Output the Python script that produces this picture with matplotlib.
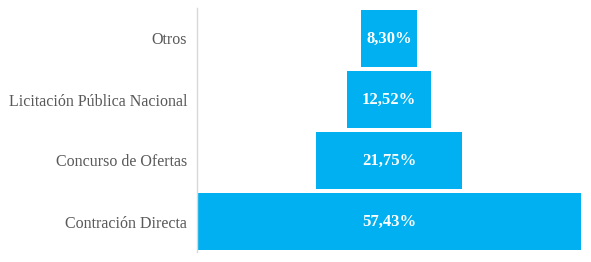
import matplotlib
matplotlib.use("Agg")
import matplotlib.pyplot as plt

categories = ["Contración Directa", "Concurso de Ofertas", "Licitación Pública Nacional", "Otros"]
values = [57.43, 21.75, 12.52, 8.30]
labels = ["57,43%", "21,75%", "12,52%", "8,30%"]

plt.rcParams['font.family'] = ['Liberation Serif', 'DejaVu Serif']
fig = plt.figure(figsize=(5.91, 2.62), dpi=100)
ax = fig.add_axes([197/591, 10/262, 384/591, 244/262])
vmax = max(values)
ypos = list(range(len(categories)))
lefts = [(vmax - v) / 2 for v in values]
ax.barh(ypos, values, left=lefts, height=0.92, color="#00B0F0")
for y, v, l, lab in zip(ypos, values, lefts, labels):
    ax.text(l + v / 2, y, lab, ha="center", va="center", color="white",
            fontsize=12, fontweight="bold")
ax.set_xlim(0, vmax)
ax.set_ylim(-0.5, 3.5)
ax.set_yticks(ypos)
ax.set_yticklabels(categories, fontsize=11.5, color="#595959")
ax.tick_params(axis="y", length=0, pad=7)
ax.set_xticks([])
for s in ["top", "right", "bottom"]:
    ax.spines[s].set_visible(False)
ax.spines["left"].set_color("#D9D9D9")
ax.spines["left"].set_linewidth(1)
fig.savefig("out.png", dpi=100)
